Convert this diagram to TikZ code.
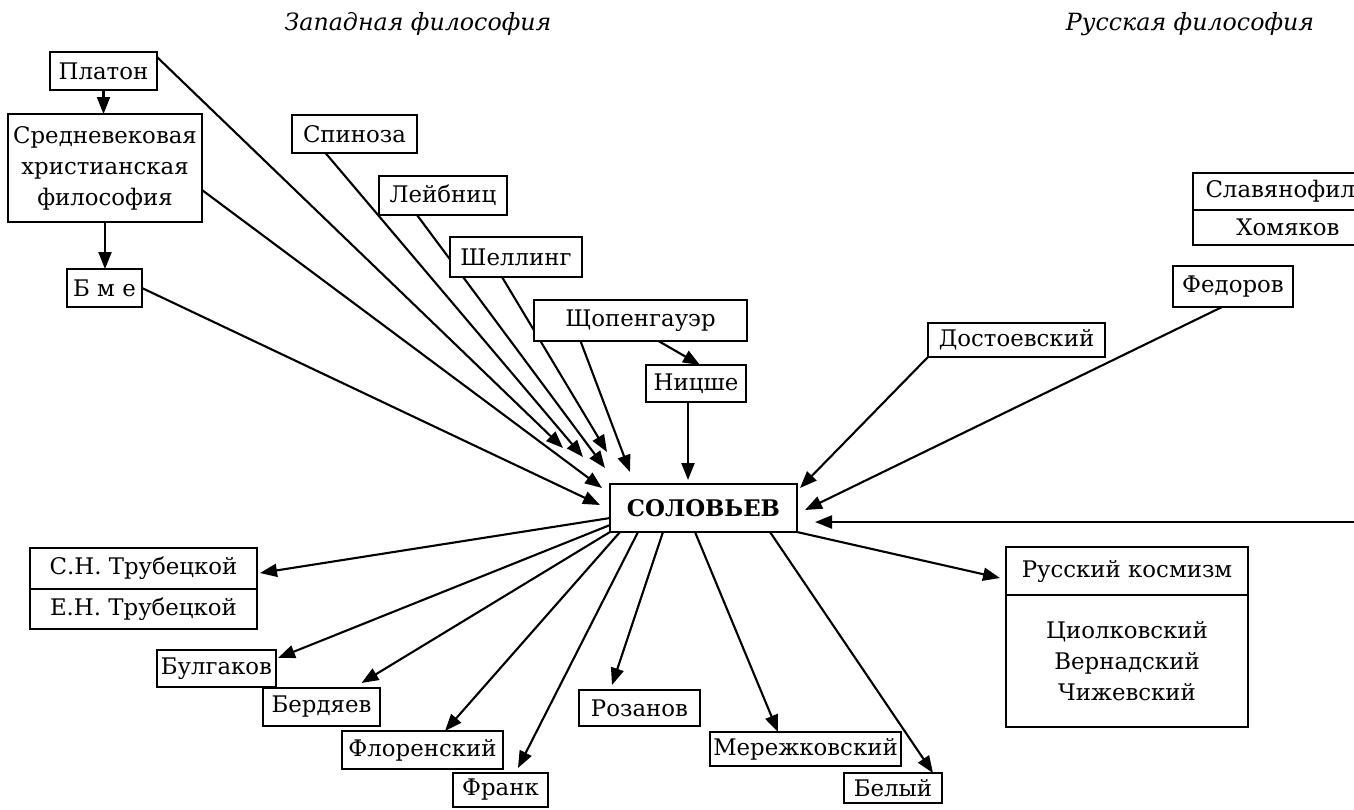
\documentclass[tikz,border=0pt]{standalone}
\usepackage{fontspec}
\setmainfont{DejaVu Serif}
\usetikzlibrary{arrows.meta,positioning,backgrounds}
\newcommand{\boxfont}{\fontsize{13}{17.6}\selectfont}
\newcommand{\headfont}{\fontsize{13.5}{16}\selectfont\itshape}
\tikzset{
  box/.style={rectangle,draw,line width=1.2pt,fill=white,outer sep=0pt,inner sep=2pt,
              minimum height=0.76cm,align=center,font=\boxfont},
  heading/.style={font=\headfont},
  arr/.style={-{Triangle[length=3.4mm,width=2.6mm]},line width=1.2pt},
}

\begin{document}
\begin{tikzpicture}
  \useasboundingbox (0,0) rectangle (27.08,-16.18);
  % headings
  \node[heading] (west) at (8.36,-0.48) {Западная философия};
  \node[heading] (russ) at (23.8,-0.48) {Русская философия};

  % western sources
  \node[box,minimum width=2.14cm] (platon) at (2.07,-1.42) {Платон};
  \node[box,minimum width=3.88cm,minimum height=2.16cm] (sred) at (2.10,-3.36) {Средневековая\\христианская\\философия};
  \node[box,minimum width=1.5cm] (bme) at (2.09,-5.76) {Б м е};
  \node[box,minimum width=2.5cm] (spin) at (7.09,-2.68) {Спиноза};
  \node[box,minimum width=2.56cm,minimum height=0.78cm] (leib) at (8.86,-3.91) {Лейбниц};
  \node[box,minimum width=2.64cm,minimum height=0.8cm] (shel) at (10.32,-5.14) {Шеллинг};
  \node[box,minimum width=4.26cm,minimum height=0.82cm] (schop) at (12.81,-6.41) {Щопенгауэр};
  \node[box,minimum width=2.0cm,minimum height=0.74cm] (nietz) at (13.92,-7.67) {Ницше};

  % centre
  \node[box,minimum width=3.74cm,minimum height=0.96cm,font=\boxfont\bfseries] (sol) at (14.07,-10.16) {СОЛОВЬЕВ};

  % russian sources
  \node[box,minimum width=3.54cm,minimum height=0.68cm] (dost) at (20.33,-6.80) {Достоевский};
  \node[box,minimum width=2.4cm,minimum height=0.82cm] (fed) at (24.66,-5.73) {Федоров};
  \node[box,minimum width=3.8cm,minimum height=0.74cm,text width=3.3cm,align=left,inner xsep=0.25cm] (slav) at (25.76,-3.83) {Славянофил};
  \node[box,minimum width=3.8cm,minimum height=0.70cm,below=0pt of slav] (khom) {Хомяков};
  \coordinate (rightin) at (27.3,-10.44);

  % followers
  \node[box,minimum width=4.54cm,minimum height=0.82cm] (strub) at (2.87,-11.37) {С.Н. Трубецкой};
  \node[box,minimum width=4.54cm,minimum height=0.80cm,below=0pt of strub] (etrub) {Е.Н. Трубецкой};
  \node[box,minimum width=2.38cm,minimum height=0.74cm] (bulg) at (4.33,-13.37) {Булгаков};
  \node[box,minimum width=2.34cm] (berd) at (6.43,-14.14) {Бердяев};
  \node[box,minimum width=3.22cm] (flor) at (8.45,-15.0) {Флоренский};
  \node[box,minimum width=1.9cm,minimum height=0.68cm] (frank) at (10.01,-15.8) {Франк};
  \node[box,minimum width=2.42cm,minimum height=0.72cm] (rozan) at (12.79,-14.16) {Розанов};
  \node[box,minimum width=3.82cm,minimum height=0.68cm] (merezh) at (16.11,-14.98) {Мережковский};
  \node[box,minimum width=1.96cm,minimum height=0.60cm] (bely) at (17.86,-15.76) {Белый};
  \node[box,minimum width=4.84cm,minimum height=0.96cm] (kosm) at (22.54,-11.42) {Русский космизм};
  \node[box,minimum width=4.84cm,minimum height=2.64cm,below=0pt of kosm] (kosmlist) {Циолковский\\Вернадский\\Чижевский};

  \begin{scope}[on background layer]
    \draw[arr] (platon.south) -- (platon.south |- sred.north);
    \draw[arr] (sred.south) -- (sred.south |- bme.north);
    \draw[arr] ([xshift=0.36cm]schop.south) -- ([xshift=0.08cm]nietz.north);
    % into Solovyev
    \draw[arr] ([yshift=-0.1cm]platon.north east) -- ([xshift=-0.94cm,yshift=0.72cm]sol.north west);
    \draw[arr] ([yshift=-0.44cm]sred.east) -- ([xshift=-0.16cm,yshift=-0.08cm]sol.north west);
    \draw[arr] (bme.east) -- ([xshift=-0.2cm,yshift=-0.42cm]sol.north west);
    \draw[arr] ([xshift=-0.58cm]spin.south) -- ([xshift=-0.54cm,yshift=0.54cm]sol.north west);
    \draw[arr] ([xshift=-0.52cm]leib.south) -- ([xshift=-0.1cm,yshift=0.32cm]sol.north west);
    \draw[arr] ([xshift=-0.28cm]shel.south) -- ([xshift=-0.06cm,yshift=0.64cm]sol.north west);
    \draw[arr] ([xshift=-1.2cm]schop.south) -- ([xshift=0.4cm,yshift=0.24cm]sol.north west);
    \draw[arr] ([xshift=-0.16cm]nietz.south) -- ([xshift=-0.16cm,yshift=0.08cm]nietz.south |- sol.north);
    \draw[arr] (dost.south west) -- ([xshift=0.06cm,yshift=-0.08cm]sol.north east);
    \draw[arr] ([xshift=-0.22cm]fed.south) -- ([xshift=0.16cm,yshift=-0.04cm]sol.east);
    \draw[arr] (rightin) -- ([xshift=0.36cm,yshift=-0.28cm]sol.east);
    % out of Solovyev
    \draw[arr] ([yshift=-0.2cm]sol.west) -- ([xshift=0.06cm,yshift=-0.09cm]strub.east);
    \draw[arr] ([yshift=0.14cm]sol.south west) -- ([xshift=0.04cm,yshift=-0.16cm]bulg.north east);
    \draw[arr] (sol.south west) -- ([xshift=0.8cm,yshift=0.1cm]berd.north);
    \draw[arr] ([xshift=0.2cm]sol.south west) -- ([xshift=0.45cm]flor.north);
    \draw[arr] ([xshift=0.56cm]sol.south west) -- ([xshift=0.35cm,yshift=0.1cm]frank.north);
    \draw[arr] ([xshift=1.06cm]sol.south west) -- ([xshift=-0.55cm,yshift=0.1cm]rozan.north);
    \draw[arr] ([xshift=1.7cm]sol.south west) -- ([xshift=-0.55cm]merezh.north);
    \draw[arr] ([xshift=3.2cm]sol.south west) -- ([xshift=0.8cm]bely.north);
    \draw[arr] (sol.south east) -- ([xshift=-0.12cm,yshift=-0.14cm]kosm.west);
  \end{scope}
\end{tikzpicture}
\end{document}
